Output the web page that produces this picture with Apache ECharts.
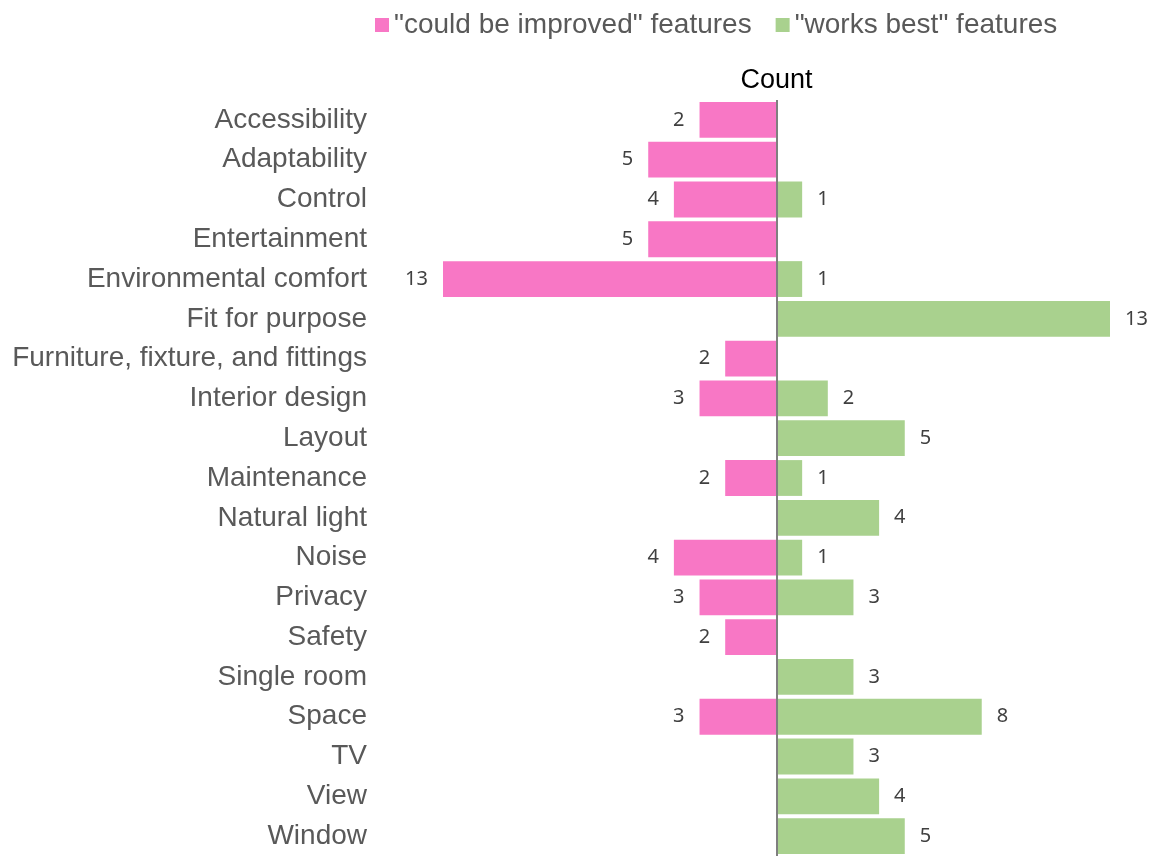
<!DOCTYPE html>
<html>
<head>
<meta charset="utf-8">
<script src="https://cdn.jsdelivr.net/npm/echarts@6/dist/echarts.min.js"></script>
<style>html,body{margin:0;padding:0;background:#fff}#c{width:1159px;height:856px}</style>
</head>
<body>
<div id="c"></div>
<script>
const categories = ["Accessibility","Adaptability","Control","Entertainment","Environmental comfort","Fit for purpose","Furniture, fixture, and fittings","Interior design","Layout","Maintenance","Natural light","Noise","Privacy","Safety","Single room","Space","TV","View","Window"];
// bar lengths as drawn in the picture ("could be improved", drawn to the left)
const improvedValues = [3,5,4,5,13,0,2,3,0,2,0,4,3,2,0,3,0,0,0];
// labels as printed in the picture
const improvedLabels = [2,5,4,5,13,0,2,3,0,2,0,4,3,2,0,3,0,0,0];
const worksBestValues = [0,0,1,0,1,13,0,2,5,1,4,1,3,0,3,8,3,4,5];
const seriesNames = ['"could be improved" features','"works best" features'];

const chart = echarts.init(document.getElementById('c'));
const labelFont = {fontFamily:'Noto Sans', fontSize:20, color:'#404040'};
chart.setOption({
  animation:false,
  legend:{
    left:370, top:6, itemWidth:14, itemHeight:14, itemGap:24, icon:'rect',
    textStyle:{fontFamily:'Liberation Sans', fontSize:28, color:'#595959'},
    data:seriesNames
  },
  grid:{left:443, width:667, top:100, height:760, containLabel:false},
  xAxis:{type:'value', min:-13, max:13, show:false},
  yAxis:{
    type:'category', data:categories, inverse:true,
    axisLine:{show:false}, axisTick:{show:false},
    axisLabel:{margin:76, fontFamily:'Liberation Sans', fontSize:28, color:'#595959', padding:[4,0,0,0]}
  },
  series:[
    {
      name:seriesNames[0], type:'bar', stack:'s', barCategoryGap:'10%',
      itemStyle:{color:'#F877C5'},
      data:improvedValues.map(v => v ? -v : '-'),
      label:{show:true, position:'left', distance:15, ...labelFont,
        formatter:p => String(improvedLabels[p.dataIndex])}
    },
    {
      name:seriesNames[1], type:'bar', stack:'s', barCategoryGap:'10%',
      itemStyle:{color:'#A9D18E'},
      data:worksBestValues.map(v => v ? v : '-'),
      label:{show:true, position:'right', distance:15, ...labelFont},
      markLine:{
        silent:true, symbol:['none','none'],
        lineStyle:{color:'#7F7F7F', width:2, type:'solid'},
        label:{show:true, position:'start', formatter:'Count', distance:6,
          fontFamily:'Liberation Sans', fontSize:27, color:'#000'},
        data:[{xAxis:0}]
      }
    }
  ]
});
</script>
</body>
</html>
